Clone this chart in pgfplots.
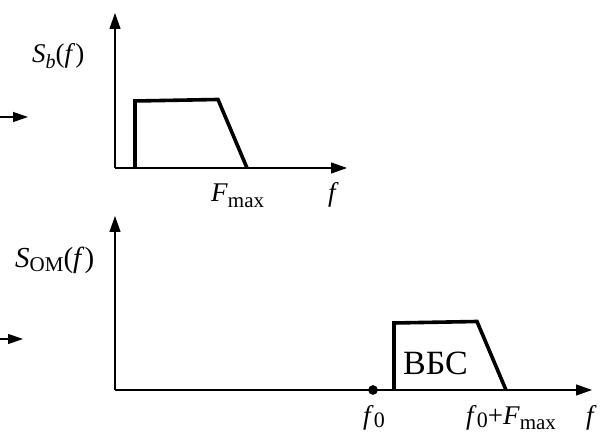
\documentclass[border=0pt]{standalone}
\usepackage{pgfplots}
\pgfplotsset{compat=1.18}
\usepackage{fontspec}
\setmainfont{Liberation Serif}
\usetikzlibrary{arrows.meta}
\newcommand{\fs}[1]{\fontsize{#1}{#1}\selectfont}
\begin{document}
\begin{tikzpicture}[x=1pt,y=1pt]
\useasboundingbox (0,0) rectangle (606,435);
\pgfplotsset{
  myax/.style={
    scale only axis, axis lines=left, clip=false,
    xtick=\empty, ytick=\empty,
    axis line style={line width=1.2pt, -{Triangle[length=16pt,width=11pt]}},
  }
}
% top spectrum
\begin{axis}[myax, at={(115pt,267pt)}, anchor=south west,
  width=232pt, height=155pt, xmin=115, xmax=347, ymin=267, ymax=422]
\addplot[black, line width=3.6pt, line join=miter] coordinates {(135,267) (135,334) (218,335.5) (247,267)};
\node[anchor=base west, inner sep=0] at (axis cs:32,372) {\fs{27}\textit{S}\raisebox{-0.2em}{\fs{20}\textit{b}}(\textit{f})};
\node[anchor=base west, inner sep=0] at (axis cs:211,233) {\fs{27}\textit{F}\raisebox{-0.2em}{\fs{21}max}};
\node[anchor=base west, inner sep=0] at (axis cs:328,233) {\fs{27}\textit{f}};
\end{axis}
% bottom spectrum
\begin{axis}[myax, at={(115pt,45pt)}, anchor=south west,
  width=477pt, height=174pt, xmin=115, xmax=592, ymin=45, ymax=219]
\addplot[black, line width=3.6pt, line join=miter] coordinates {(394,45) (394,112) (477,113.5) (506,45)};
\addplot[only marks, mark=*, mark size=4.6pt, black] coordinates {(373,45)};
\node[anchor=base west, inner sep=0] at (axis cs:15,167) {\fs{29}\textit{S}\raisebox{-0.12em}{\fs{21}OM}(\textit{f})};
\node[anchor=base west, inner sep=0] at (axis cs:403,60) {\fs{34}ВБС};
\node[anchor=base, inner sep=0] at (axis cs:374,10) {\fs{27}\textit{f}\raisebox{-0.08em}{\fs{22}0}};
\node[anchor=base west, inner sep=0] at (axis cs:466,10) {\fs{27}\textit{f}\raisebox{-0.08em}{\fs{22}0}+\textit{F}\raisebox{-0.18em}{\fs{21}max}};
\node[anchor=base west, inner sep=0] at (axis cs:586,10) {\fs{27}\textit{f}};
\end{axis}
% cut-off arrows at the left edge
\draw[line width=1.2pt, -{Triangle[length=15pt,width=10pt]}] (0,318) -- (28,318);
\draw[line width=1.2pt, -{Triangle[length=15pt,width=10pt]}] (0,96) -- (23,96);
\end{tikzpicture}
\end{document}
